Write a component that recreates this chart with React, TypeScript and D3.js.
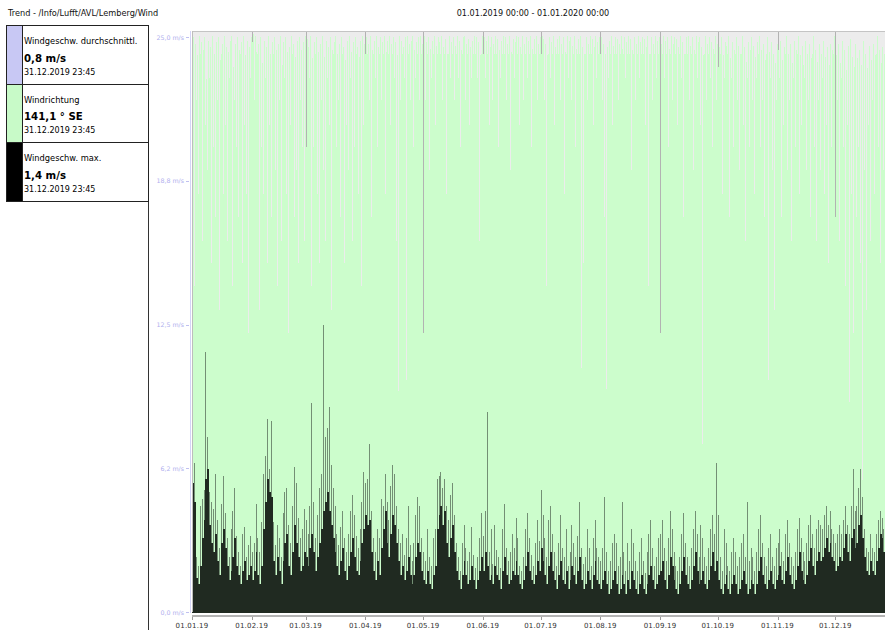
import * as d3 from "d3";

// ---- Daten ----
const title = "Trend - /Info/Lufft/AVL/Lemberg/Wind";
const rangeText = "01.01.2019 00:00 - 01.01.2020 00:00";

const legendNames = ["Windgeschw. durchschnittl.", "Windrichtung", "Windgeschw. max."];
const legendValues = ["0,8 m/s", "141,1 ° SE", "1,4 m/s"];
const legendDates = ["31.12.2019 23:45", "31.12.2019 23:45", "31.12.2019 23:45"];
const legendColors = ["#c8c8f4", "#c8fac8", "#000000"];

const xTickLabels = ["01.01.19", "01.02.19", "01.03.19", "01.04.19", "01.05.19", "01.06.19",
  "01.07.19", "01.08.19", "01.09.19", "01.10.19", "01.11.19", "01.12.19"];
const yTicks = [0, 6.25, 12.5, 18.75, 25];
const yTickLabels = ["0,0 m/s", "6,2 m/s", "12,5 m/s", "18,8 m/s", "25,0 m/s"];

// Windgeschw. max. – Tagesgrundniveau (m/s), ein Wert pro Tag
const windBase = [
  5.6,4.8,1.5,1.2,2.0,3.2,4.0,5.8,6.2,3.8,3.0,2.6,3.4,2.2,1.6,3.0,3.6,2.8,2.0,1.4,1.8,2.4,3.2,2.0,1.6,1.2,1.8,2.2,1.4,1.6,2.0,
  1.4,1.8,2.6,1.6,1.2,2.0,3.6,4.8,5.8,5.2,5.0,2.2,1.6,2.4,1.8,1.2,2.2,3.0,3.4,2.0,1.6,2.6,3.8,3.0,2.4,1.8,2.0,2.6,
  2.4,2.0,2.8,3.4,2.6,1.8,2.4,3.0,3.6,4.4,4.8,5.2,4.4,3.8,3.2,2.6,2.0,1.6,2.2,2.8,1.8,1.4,2.0,2.6,3.2,2.4,1.8,1.6,2.2,3.0,3.6,
  4.2,3.8,4.0,2.6,1.8,1.4,2.2,1.6,2.8,3.6,4.4,3.0,2.4,3.4,4.2,3.8,3.0,2.2,1.6,2.0,1.4,1.8,2.4,1.6,1.2,1.6,2.4,3.0,2.6,1.8,
  1.4,1.2,1.8,1.2,1.0,1.6,2.0,3.6,4.2,4.6,3.8,4.4,3.0,2.4,3.2,3.8,2.6,1.8,1.4,1.0,1.6,2.2,1.6,1.2,1.4,2.0,1.4,1.0,1.4,1.8,2.4,
  1.8,2.6,2.0,1.4,1.6,1.2,2.0,1.6,1.4,1.0,1.8,2.4,1.6,1.2,1.4,1.8,1.6,2.2,1.6,1.2,1.0,1.4,2.0,2.6,1.8,1.4,1.2,1.6,2.2,1.8,
  2.8,2.2,1.6,1.2,2.0,2.6,1.8,1.4,1.0,1.6,2.2,1.4,1.2,1.8,1.0,1.4,2.0,1.6,1.2,1.8,2.4,1.4,1.0,1.2,1.8,1.4,1.0,1.6,2.2,1.4,1.2,
  1.0,1.4,1.8,1.2,0.8,1.0,1.4,1.8,1.2,0.8,1.0,1.6,1.2,0.8,1.4,1.0,1.8,1.4,1.0,0.8,1.2,1.6,1.0,0.8,1.2,1.6,2.0,1.4,1.0,1.2,1.6,
  1.8,2.2,1.4,1.0,1.6,2.4,2.0,1.4,1.0,0.8,1.2,1.8,2.4,1.6,1.2,1.0,1.4,2.0,2.6,1.8,1.2,1.4,1.8,1.2,1.0,1.4,2.0,2.6,1.8,2.2,
  1.4,1.0,0.8,1.2,1.6,1.0,0.8,1.2,1.6,1.2,0.8,1.0,1.4,1.8,1.2,0.8,1.0,1.4,1.2,0.8,1.2,1.8,2.4,1.6,1.2,1.0,1.4,1.8,1.2,1.0,1.4,
  1.6,2.0,1.4,1.2,1.8,2.4,1.6,1.2,1.0,1.4,2.0,2.6,1.8,1.4,1.2,1.6,2.2,2.8,2.0,1.6,2.2,2.6,2.2,2.4,2.8,3.2,2.6,3.0,2.4,2.2,
  1.8,2.0,2.4,2.2,2.8,3.4,2.6,2.2,3.2,3.6,2.8,3.0,3.8,4.2,3.2,2.4,1.8,1.6,2.2,1.8,1.6,2.2,2.8,3.4,3.2,2.6,2.0,1.6,1.2,1.0,0.8,
];

// Windgeschw. max. – Tagesspitze (m/s)
const windPeak = [
  6.8,6.5,2.4,2.0,4.6,4.9,5.3,11.3,7.6,5.2,4.8,4.5,6.0,4.0,2.8,4.7,5.9,4.3,3.2,2.4,3.6,4.4,5.4,3.3,2.6,2.0,3.4,3.7,2.4,2.9,3.3,
  2.6,3.0,4.7,3.2,2.6,3.9,6.0,6.8,8.4,6.2,8.3,3.9,2.9,3.8,3.2,2.4,4.3,5.2,5.4,3.8,3.0,4.6,6.3,5.6,4.1,3.2,3.6,4.5,
  4.0,3.4,4.6,9.1,4.8,3.2,4.2,5.4,6.0,12.5,7.6,8.0,8.9,6.4,5.4,4.6,3.4,2.9,3.7,4.4,3.2,2.6,3.4,4.4,5.1,4.2,3.3,2.8,3.6,4.8,6.1,
  5.6,5.8,7.3,4.4,3.2,2.6,3.6,3.2,4.9,4.6,6.0,4.8,4.0,5.5,6.4,6.0,4.6,3.6,3.0,3.4,2.5,3.2,4.6,2.9,2.2,3.0,4.2,5.0,4.6,3.2,
  2.6,2.2,3.6,2.4,2.0,3.2,3.6,5.8,5.9,6.1,5.4,5.8,4.6,4.0,5.1,5.6,4.2,3.0,2.4,1.8,3.0,3.8,2.8,2.2,2.6,3.7,2.5,1.9,2.4,3.2,4.3,
  3.3,4.4,8.7,2.6,3.6,2.1,3.8,2.7,2.4,1.9,3.6,4.7,2.8,2.2,2.6,3.4,2.8,4.1,3.2,2.0,1.8,2.4,3.6,4.3,3.2,2.5,2.0,3.0,4.0,3.1,
  5.3,4.2,3.2,2.4,4.0,4.6,3.4,2.6,2.0,3.0,4.2,2.8,2.4,3.6,2.0,2.6,3.8,3.0,2.4,3.3,4.8,2.8,2.1,2.4,3.6,2.8,2.0,3.2,4.0,2.8,2.4,
  2.2,2.8,5.0,2.6,1.8,2.2,3.0,3.4,3.0,2.0,2.4,4.8,2.6,1.8,3.0,2.2,3.6,3.0,2.2,1.8,2.6,3.2,2.2,1.7,2.6,3.4,4.0,2.8,2.0,2.4,3.2,
  3.4,4.0,2.8,2.2,3.2,4.4,3.6,2.6,2.0,1.8,2.4,3.4,4.3,3.0,2.4,2.0,2.8,3.6,4.4,3.4,2.4,3.8,3.2,2.4,2.0,2.8,3.6,4.2,3.4,6.5,
  4.2,2.4,1.8,3.6,3.0,2.0,1.8,2.6,3.2,2.6,2.0,2.4,3.0,3.4,2.4,4.8,2.2,2.8,2.4,1.8,2.6,3.6,4.2,3.0,2.4,2.0,2.8,3.4,2.4,2.0,2.8,
  3.0,3.6,2.6,2.2,3.4,4.0,3.0,2.4,2.0,2.6,3.6,4.1,3.2,2.6,2.2,3.0,3.8,4.2,3.4,2.8,3.6,4.0,3.8,3.6,4.2,4.6,3.8,4.4,3.6,3.4,
  3.0,3.4,3.8,3.4,4.0,4.6,3.8,3.4,4.6,6.2,4.4,4.6,5.4,6.2,5.0,3.6,2.8,2.6,3.4,2.8,2.6,3.4,4.0,4.4,4.1,3.6,3.0,2.4,2.0,1.6,1.4,
];

// Windrichtung – Tagesminimum (Grad)
const dirLow = [
  288,202,317,259,346,230,173,302,274,331,216,288,245,317,187,346,259,302,230,331,274,202,317,288,245,346,216,302,259,173,331,
  353,317,230,346,187,288,259,331,216,302,245,346,274,202,317,230,288,331,259,173,302,346,245,274,216,317,288,230,
  288,245,331,202,288,346,259,216,317,274,230,331,302,187,346,259,288,317,245,346,216,302,274,331,230,288,346,259,317,202,302,
  346,346,317,245,346,331,288,346,317,346,259,331,346,302,346,331,230,137,317,346,331,144,346,317,346,288,331,346,317,346,
  173,317,346,274,331,346,302,346,331,346,317,346,259,346,331,346,317,346,331,288,346,346,317,346,302,331,346,346,331,230,346,
  346,331,346,302,346,317,346,346,288,331,346,346,317,346,274,346,331,346,346,302,346,317,346,331,346,288,346,346,317,346,
  346,346,317,202,346,331,346,302,346,346,317,346,259,346,331,346,317,346,288,346,346,151,216,346,317,346,346,302,346,331,346,
  346,317,245,138,331,346,302,346,346,317,346,288,346,331,346,346,274,346,317,346,331,346,346,302,346,202,346,317,346,331,346,
  173,346,331,346,288,346,317,346,346,302,346,331,245,346,346,317,346,274,346,331,346,302,104,346,317,346,331,288,346,317,
  338,346,259,331,317,346,245,331,288,346,317,274,346,302,230,331,288,346,317,259,331,346,288,317,245,346,144,331,274,187,317,
  141,331,245,302,346,274,317,230,331,288,346,259,302,216,331,274,317,245,346,288,230,317,274,331,259,302,216,135,288,346,
  245,317,230,331,288,202,302,130,259,173,317,245,288,216,82,274,187,302,230,317,259,346,288,216,141,274,331,245,317,259,288,
];

// Windrichtung – Tagesmaximum (Grad)
const dirHigh = [
  356,352,345,357,353,348,356,330,354,350,357,346,353,356,342,352,357,350,347,354,357,338,352,356,348,353,357,345,354,350,356,
  358,357,347,352,356,340,354,350,357,346,353,356,348,352,357,339,353,356,347,350,357,352,344,354,356,348,353,357,
  355,350,357,343,353,356,347,352,357,344,354,350,356,348,353,357,346,352,356,350,342,354,357,347,353,356,350,344,354,357,352,
  356,352,357,348,354,357,350,356,353,357,347,354,357,352,356,353,345,357,354,350,356,357,352,354,357,348,353,356,357,352,
  357,353,356,349,354,357,351,356,353,357,350,355,346,357,353,356,351,357,354,348,356,357,352,355,350,354,357,356,353,345,357,
  356,354,357,350,356,352,357,355,348,354,357,356,352,357,347,355,353,357,356,350,357,352,356,354,357,349,355,357,352,356,
  357,355,352,345,356,353,357,350,355,357,352,356,347,357,354,356,351,357,349,355,357,350,346,356,352,357,355,350,357,353,356,
  356,352,346,350,354,357,351,356,355,352,357,349,356,353,357,355,348,356,352,357,353,356,355,350,357,346,356,352,357,354,356,
  352,357,354,356,349,357,352,356,355,350,357,353,346,356,357,351,356,348,357,353,356,350,345,357,352,356,353,349,357,352,
  350,356,345,353,351,357,343,353,348,356,351,346,357,350,341,353,348,356,351,344,353,357,348,352,342,356,347,353,346,340,352,
  348,354,342,350,357,346,352,340,354,348,357,345,351,339,354,346,352,343,357,348,341,352,346,354,344,350,339,352,348,357,
  345,352,340,354,348,336,351,355,344,338,352,343,348,339,354,346,337,351,342,352,345,357,348,340,350,346,354,343,352,345,348,
];

// ---- Layout ----
const W = 885;
const H = 630;
const left = 192;
const top = 31;
const bottom = 612;

const start = new Date(Date.UTC(2019, 0, 1));
const end = new Date(Date.UTC(2020, 0, 1));
const x = d3.scaleUtc().domain([start, end]).range([192, 895]);
const y = d3.scaleLinear().domain([0, 25]).range([612, 37]);
// Windrichtung nutzt die volle Plothöhe
const yDir = d3.scaleLinear().domain([0, 360]).range([612, 31]);
const days = d3.utcDay.range(start, end);
const monthStarts = d3.utcMonth.range(start, end);

const font = "'DejaVu Sans', Verdana, sans-serif";

export default function App() {
  const cols = days.map((d, i) => {
    const x0 = Math.round(x(d));
    const x1 = Math.round(x(d3.utcDay.offset(d, 1)));
    return { x0, w: x1 - x0, i };
  });

  return (
    <svg width={W} height={H} style={{ position: "absolute", left: 0, top: 0, background: "#fff" }}>
      <defs>
        <clipPath id="plot">
          <rect x={left} y={top} width={W - left} height={bottom - top + 1} />
        </clipPath>
      </defs>

      {/* Titel */}
      <text x={8} y={16} fontFamily={font} fontSize={8.2} fill="#111">{title}</text>
      <text x={533} y={16} fontFamily={font} fontSize={8.1} fill="#111" textAnchor="middle">{rangeText}</text>

      {/* Plotbereich */}
      <g clipPath="url(#plot)" shapeRendering="crispEdges">
        <rect x={left} y={top} width={W - left} height={bottom - top + 1} fill="#ececec" />
        {monthStarts.map((m, k) => (
          <rect key={k} x={Math.round(x(m))} y={top} width={1} height={bottom - top} fill="#b2b2b2" />
        ))}
        {cols.map(({ x0, w, i }) => {
          const lo = Math.min(dirLow[i], dirHigh[i]);
          const half = Math.floor(w / 2);
          return (
            <g key={"g" + i}>
              <rect x={x0} y={yDir(lo)} width={w} height={bottom + 1 - yDir(lo)} fill="#ccfdcc" />
              {w - half > 0 && (
                <rect x={x0 + half} y={yDir(dirHigh[i])} width={w - half}
                  height={Math.max(0, yDir(lo) - yDir(dirHigh[i]))} fill="#ccfdcc" />
              )}
            </g>
          );
        })}
        {cols.map(({ x0, w, i }) => (
          <rect key={"b" + i} x={x0} y={y(windBase[i])} width={w} height={bottom + 1 - y(windBase[i])} fill="#202a21" />
        ))}
        {cols.map(({ x0, i }) => (
          <rect key={"p" + i} x={x0} y={y(windPeak[i])} width={1}
            height={Math.max(0, y(windBase[i]) - y(windPeak[i]))} fill="#2a342b" fillOpacity={0.55} />
        ))}
        <rect x={left} y={top} width={W - left} height={1} fill="#c4c4c4" />
        <rect x={left} y={top} width={1} height={bottom - top} fill="#bdbdbd" />
      </g>

      {/* x-Achse */}
      <g shapeRendering="crispEdges">
        <rect x={left} y={615} width={W - left} height={2} fill="#b4b4b4" />
        {monthStarts.map((m, k) => (
          <rect key={k} x={Math.round(x(m))} y={617} width={1} height={3} fill="#9a9a9a" />
        ))}
      </g>
      {monthStarts.map((m, k) => (
        <text key={k} x={x(m)} y={628} textAnchor="middle" fontFamily={font} fontSize={7} fill="#333"
          letterSpacing={0.2}>{xTickLabels[k]}</text>
      ))}

      {/* y-Achse */}
      <rect x={190} y={top} width={1} height={bottom - top + 1} fill="#d4d4f6" shapeRendering="crispEdges" />
      {yTicks.map((t, k) => (
        <g key={k}>
          <rect x={186} y={Math.round(y(t))} width={3} height={1} fill="#c0c0f0" shapeRendering="crispEdges" />
          <text x={184} y={y(t) + 2.5} textAnchor="end" fontFamily={font} fontSize={6.3} fill="#b0b0ee">
            {yTickLabels[k]}
          </text>
        </g>
      ))}

      {/* Legende */}
      <g shapeRendering="crispEdges">
        <rect x={148} y={25} width={1} height={H - 25} fill="#333" />
        {legendNames.map((n, k) => {
          const by = 25 + k * 58.5;
          return (
            <g key={k}>
              <rect x={6} y={by} width={16} height={58.5} fill={legendColors[k]} />
              <rect x={6.5} y={by + 0.5} width={142} height={58.5} fill="none" stroke="#222" strokeWidth={1} />
              <line x1={22.5} y1={by} x2={22.5} y2={by + 58.5} stroke="#222" strokeWidth={1} />
            </g>
          );
        })}
      </g>
      {legendNames.map((n, k) => {
        const by = 25 + k * 58.5;
        return (
          <g key={k} fontFamily={font} fill="#000">
            <text x={24} y={by + 19} fontSize={8.3}>{n}</text>
            <text x={24} y={by + 36.5} fontSize={10.2} fontWeight="bold">{legendValues[k]}</text>
            <text x={24} y={by + 49.5} fontSize={8}>{legendDates[k]}</text>
          </g>
        );
      })}
    </svg>
  );
}
